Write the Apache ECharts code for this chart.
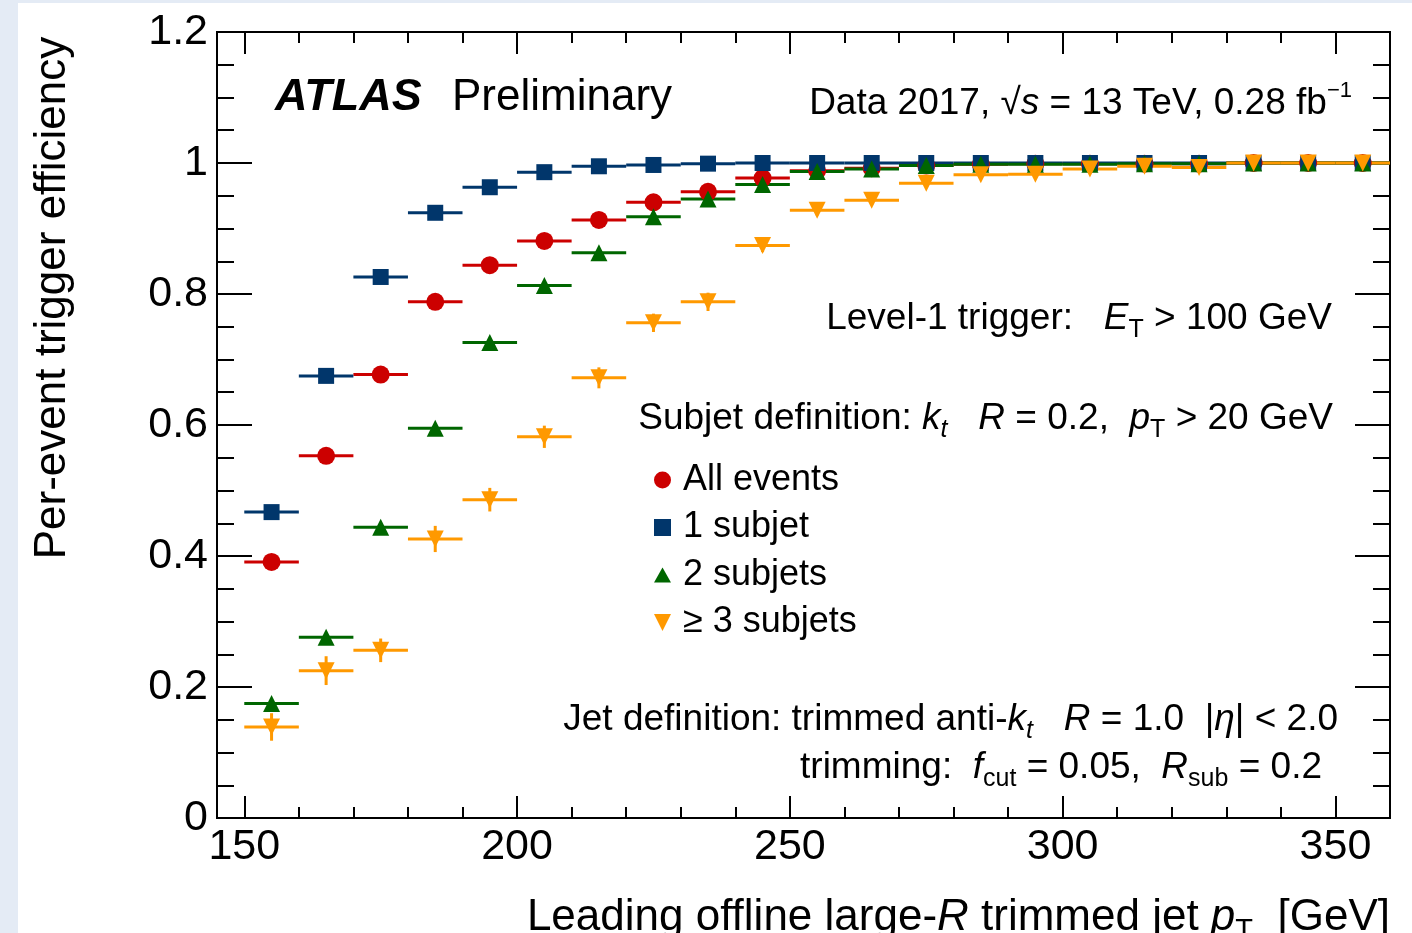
<!DOCTYPE html>
<html>
<head>
<meta charset="utf-8">
<script src="https://cdn.jsdelivr.net/npm/echarts@6/dist/echarts.min.js"></script>
<style>
  html, body { margin: 0; padding: 0; width: 1412px; height: 933px; overflow: hidden; background: #e4ebf5; }
  #panel { position: absolute; left: 18px; top: 3px; right: 0; bottom: 0; background: #fff; }
  #chart { position: absolute; left: 0; top: 0; width: 1412px; height: 933px; }
</style>
</head>
<body>
<div id="panel"></div>
<div id="chart"></div>
<script>
// bins of leading jet pT, 10 GeV wide
const binWidth = 10;
const binCenters = [155, 165, 175, 185, 195, 205, 215, 225, 235, 245, 255, 265, 275, 285, 295, 305, 315, 325, 335, 345, 355];

const allEvents   = [0.391, 0.553, 0.677, 0.788, 0.844, 0.881, 0.913, 0.940, 0.956, 0.977, 0.988, 0.992, 0.996, 0.998, 0.999, 0.999, 0.999, 0.999, 1.0, 1.0, 1.0];
const oneSubjet   = [0.467, 0.675, 0.826, 0.924, 0.963, 0.986, 0.995, 0.997, 0.999, 1.0, 1.0, 1.0, 1.0, 1.0, 1.0, 1.0, 1.0, 1.0, 1.0, 1.0, 1.0];
const twoSubjets  = [0.175, 0.276, 0.444, 0.595, 0.726, 0.813, 0.863, 0.918, 0.945, 0.967, 0.987, 0.991, 0.996, 0.998, 0.998, 0.998, 0.999, 0.999, 1.0, 1.0, 1.0];
const threeSubjets = [0.139, 0.225, 0.256, 0.426, 0.486, 0.582, 0.672, 0.756, 0.788, 0.874, 0.928, 0.943, 0.969, 0.982, 0.983, 0.991, 0.995, 0.993, 1.0, 1.0, 1.0];
const threeSubjetsErr = [0.021, 0.022, 0.018, 0.020, 0.018, 0.017, 0.016, 0.014, 0.014, 0.010, 0.008, 0.007, 0.006, 0.005, 0.005, 0.004, 0.004, 0.003, 0.003, 0.003, 0.003];

const xMajorTicks = [150, 200, 250, 300, 350];
const xMinorTicks = [150, 160, 170, 180, 190, 200, 210, 220, 230, 240, 250, 260, 270, 280, 290, 300, 310, 320, 330, 340, 350, 360];

const FONT = 'Liberation Sans, Arial, Helvetica, sans-serif';

function errorBars(color) {
    return function (params, api) {
        const x = api.value(0), y = api.value(1), e = api.value(2);
        const a = api.coord([x - binWidth / 2, y]);
        const b = api.coord([x + binWidth / 2, y]);
        const children = [{
            type: 'line',
            shape: {x1: a[0], y1: a[1], x2: b[0], y2: b[1]},
            style: {stroke: color, lineWidth: 3}
        }];
        if (e > 0) {
            const lo = api.coord([x, y - e]);
            const hi = api.coord([x, y + e]);
            children.push({
                type: 'line',
                shape: {x1: lo[0], y1: lo[1], x2: hi[0], y2: hi[1]},
                style: {stroke: color, lineWidth: 3}
            });
        }
        return {type: 'group', children: children};
    };
}

function makeSeries(name, values, errs, color, symbol, size, rotate) {
    const barData = binCenters.map((x, i) => [x, values[i], errs ? errs[i] : 0]);
    return [
        {
            name: name + ' bins',
            type: 'custom',
            renderItem: errorBars(color),
            encode: {x: 0, y: 1},
            data: barData,
            silent: true
        },
        {
            name: name,
            type: 'scatter',
            symbol: symbol,
            symbolSize: size,
            symbolRotate: rotate || 0,
            itemStyle: {color: color, opacity: 1},
            data: binCenters.map((x, i) => [x, values[i]]),
            silent: true
        }
    ];
}

const series = [].concat(
    makeSeries('All events', allEvents, null, '#cc0000', 'circle', 18),
    makeSeries('1 subjet', oneSubjet, null, '#01366b', 'rect', 16),
    makeSeries('2 subjets', twoSubjets, null, '#006600', 'triangle', 17),
    makeSeries('≥ 3 subjets', threeSubjets, threeSubjetsErr, '#ff9900', 'triangle', 17, 180)
);

function xAxisDef(pos, ticks, len, labels) {
    return {
        type: 'value', position: pos, min: 145, max: 360,
        axisLine: {show: true, onZero: false, lineStyle: {color: '#000', width: 2}},
        axisTick: {show: true, inside: true, length: len, customValues: ticks, lineStyle: {color: '#000', width: 2}},
        axisLabel: labels ? {show: true, customValues: xMajorTicks, fontSize: 43, fontFamily: FONT, color: '#000', margin: 8} : {show: false},
        splitLine: {show: false}
    };
}

function yAxisDef(pos, interval, len, labels) {
    return {
        type: 'value', position: pos, min: 0, max: 1.2, interval: interval,
        axisLine: {show: true, onZero: false, lineStyle: {color: '#000', width: 2}},
        axisTick: {show: true, inside: true, length: len, lineStyle: {color: '#000', width: 2}},
        axisLabel: labels ? {show: true, fontSize: 43, fontFamily: FONT, color: '#000', margin: 9} : {show: false},
        splitLine: {show: false}
    };
}

const baseRich = {
    t: {fontSize: 37, fontFamily: FONT, color: '#000'},
    i: {fontSize: 37, fontFamily: FONT, fontStyle: 'italic', color: '#000'},
    sub: {fontSize: 25, fontFamily: FONT, color: '#000', padding: [22, 0, 0, 0]},
    subi: {fontSize: 25, fontFamily: FONT, fontStyle: 'italic', color: '#000', padding: [22, 0, 0, 0]},
    sup: {fontSize: 22, fontFamily: FONT, color: '#000', padding: [0, 0, 26, 0]}
};

function label(text, x, y, align) {
    return {
        type: 'text', x: x, y: y, silent: true,
        style: {text: text, rich: baseRich, align: align || 'right', verticalAlign: 'middle', fill: '#000', font: '37px ' + FONT}
    };
}

const chart = echarts.init(document.getElementById('chart'));
chart.setOption({
    animation: false,
    grid: {left: 217, top: 32, right: 22, bottom: 115, show: false},
    xAxis: [
        xAxisDef('bottom', xMajorTicks, 22, true),
        xAxisDef('bottom', xMinorTicks, 11, false),
        xAxisDef('top', xMajorTicks, 22, false),
        xAxisDef('top', xMinorTicks, 11, false)
    ],
    yAxis: [
        yAxisDef('left', 0.2, 35, true),
        yAxisDef('left', 0.05, 17, false),
        yAxisDef('right', 0.2, 35, false),
        yAxisDef('right', 0.05, 17, false)
    ],
    legend: {
        orient: 'vertical', left: 649, top: 455,
        itemWidth: 17, itemHeight: 17, itemGap: 7.5,
        selectedMode: false,
        data: [
            {name: 'All events', icon: 'circle'},
            {name: '1 subjet', icon: 'path://M0,0L14,0L14,14L0,14Z'},
            {name: '2 subjets', icon: 'path://M0,15L8.5,0L17,15Z'},
            {name: '≥ 3 subjets', icon: 'path://M0,0L15,0L7.5,15Z'}
        ],
        formatter: '{a|{name}}',
        textStyle: {
            fontSize: 36, fontFamily: FONT, color: '#000', lineHeight: 40,
            rich: {a: {fontSize: 36, fontFamily: FONT, color: '#000', padding: [0, 0, 0, 7]}}
        }
    },
    series: series,
    graphic: [
        {
            type: 'text', x: 275, y: 98, silent: true,
            style: {text: 'ATLAS', font: 'italic bold 45px ' + FONT, fill: '#000', align: 'left', verticalAlign: 'middle'}
        },
        {
            type: 'text', x: 452, y: 98, silent: true,
            style: {text: 'Preliminary', font: '44px ' + FONT, fill: '#000', align: 'left', verticalAlign: 'middle'}
        },
        label('{t|Data 2017, √}{i|s}{t| = 13 TeV, 0.28 fb}{sup|−1}', 1352, 104),
        label('{t|Level-1 trigger:   }{i|E}{sub|T}{t| > 100 GeV}', 1332, 319),
        label('{t|Subjet definition: }{i|k}{subi|t}{t|   }{i|R}{t| = 0.2,  }{i|p}{sub|T}{t| > 20 GeV}', 1333, 419),
        label('{t|Jet definition: trimmed anti-}{i|k}{subi|t}{t|   }{i|R}{t| = 1.0  |}{i|η}{t|| < 2.0}', 1338, 720),
        label('{t|trimming:  }{i|f}{sub|cut}{t| = 0.05,  }{i|R}{sub|sub}{t| = 0.2}', 1322, 768),
        {
            type: 'text', x: 1390, y: 918, silent: true,
            style: {
                text: '{t|Leading offline large-}{i|R}{t| trimmed jet }{i|p}{sub|T}{t|  [GeV]}',
                align: 'right', verticalAlign: 'middle', fill: '#000', font: '44px ' + FONT,
                rich: {
                    t: {fontSize: 44, fontFamily: FONT, color: '#000'},
                    i: {fontSize: 44, fontFamily: FONT, fontStyle: 'italic', color: '#000'},
                    sub: {fontSize: 29, fontFamily: FONT, color: '#000', padding: [26, 0, 0, 0]}
                }
            }
        },
        {
            type: 'text', x: 53, y: 298, rotation: Math.PI / 2, silent: true,
            style: {text: 'Per-event trigger efficiency', font: '44px ' + FONT, fill: '#000', align: 'center', verticalAlign: 'middle'}
        }
    ]
});
</script>
</body>
</html>
